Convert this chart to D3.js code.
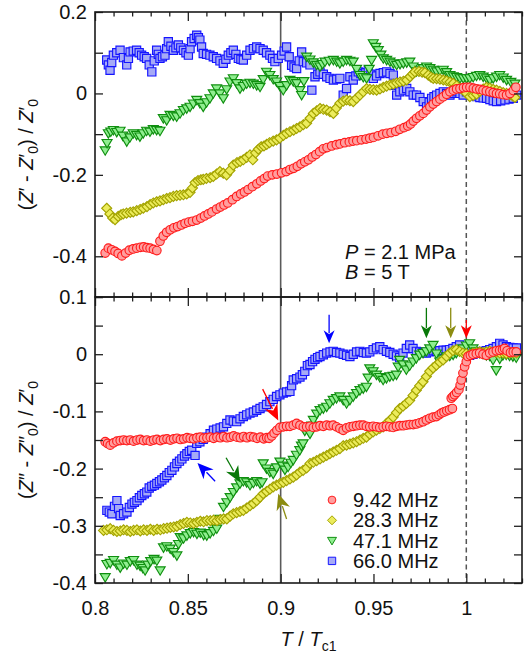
<!DOCTYPE html>
<html><head><meta charset="utf-8">
<script src="https://cdn.jsdelivr.net/npm/d3@7"></script>
<style>html,body{margin:0;padding:0;background:#fff;}svg{display:block;}</style>
</head><body>
<svg id="chart" width="531" height="653"></svg>
<script>
// ---------- DATA ----------
const xMajorTicks = [0.8, 0.85, 0.9, 0.95, 1.0];
const xTickLabels = ["0.8", "0.85", "0.9", "0.95", "1"];
const xMinorTicks = [0.81,0.82,0.83,0.84,0.86,0.87,0.88,0.89,0.91,0.92,0.93,0.94,0.96,0.97,0.98,0.99,1.01,1.02,1.03];
const topYTicks = [0.2, 0.1, 0, -0.1, -0.2, -0.3, -0.4, -0.5];
const topYLabelValues = [0.2, 0, -0.2, -0.4];
const topYLabels = ["0.2", "0", "-0.2", "-0.4"];
const botYTicks = [0.1, 0.05, 0, -0.05, -0.1, -0.15, -0.2, -0.25, -0.3, -0.35, -0.4];
const botYLabelValues = [0.1, 0, -0.1, -0.2, -0.3, -0.4];
const botYLabels = ["0.1", "0", "-0.1", "-0.2", "-0.3", "-0.4"];
const seriesNames = ["9.42 MHz", "28.3 MHz", "47.1 MHz", "66.0 MHz"];

// top panel: (Z' - Z'0)/Z'0 vs T/Tc1
const redTop = [[.8055,-.392],[.8072,-.380],[.8090,-.384],[.8108,-.388],[.8125,-.393],[.8145,-.399],[.8165,-.392],[.8185,-.385],[.8205,-.382],[.8225,-.380],[.8245,-.378],[.8262,-.377],[.8280,-.379],[.8297,-.380],[.8315,-.383],[.8333,-.386],[.8350,-.363],[.8368,-.350],[.8386,-.341],[.8405,-.335],[.8425,-.330],[.8445,-.327],[.8465,-.323],[.8485,-.319],[.8505,-.316],[.8525,-.314],[.8548,-.311],[.8570,-.306],[.8590,-.301],[.8610,-.296],[.8630,-.291],[.8655,-.284],[.8675,-.279],[.8695,-.274],[.8715,-.269],[.8740,-.261],[.8763,-.253],[.8785,-.247],[.8805,-.242],[.8825,-.236],[.8848,-.229],[.8872,-.222],[.8892,-.215],[.8912,-.209],[.8930,-.203],[.8955,-.200],[.8980,-.198],[.9005,-.195],[.9030,-.192],[.9050,-.187],[.9070,-.184],[.9090,-.179],[.9110,-.173],[.9130,-.168],[.9150,-.163],[.9170,-.156],[.9190,-.150],[.9210,-.143],[.9230,-.136],[.9250,-.133],[.9275,-.129],[.9300,-.126],[.9320,-.124],[.9345,-.121],[.9370,-.119],[.9390,-.117],[.9410,-.116],[.9435,-.114],[.9460,-.112],[.9480,-.110],[.9500,-.108],[.9525,-.104],[.9550,-.100],[.9572,-.098],[.9595,-.096],[.9620,-.093],[.9642,-.088],[.9665,-.084],[.9685,-.080],[.9700,-.075],[.9715,-.068],[.9732,-.061],[.9750,-.055],[.9768,-.049],[.9786,-.041],[.9804,-.033],[.9822,-.026],[.9840,-.020],[.9858,-.014],[.9876,-.008],[.9894,-.002],[.9912,.004],[.9930,.008],[.9948,.011],[.9966,.012],[.9985,.014],[1.0002,.015],[1.0020,.015],[1.0038,.013],[1.0055,.011],[1.0073,.010],[1.0090,.008],[1.0108,.006],[1.0127,.004],[1.0145,.002],[1.0163,.000],[1.0180,-.001],[1.0198,-.003],[1.0217,-.004],[1.0235,.000],[1.0253,.007],[1.0267,.015]];
const yellowTop = [[.8063,-.282],[.8080,-.296],[.8095,-.306],[.8108,-.310],[.8125,-.302],[.8140,-.298],[.8152,-.296],[.8170,-.294],[.8190,-.292],[.8206,-.291],[.8225,-.288],[.8243,-.285],[.8260,-.282],[.8280,-.278],[.8297,-.273],[.8314,-.269],[.8332,-.266],[.8350,-.264],[.8368,-.261],[.8386,-.258],[.8404,-.256],[.8422,-.253],[.8440,-.251],[.8458,-.250],[.8476,-.249],[.8494,-.247],[.8512,-.243],[.8525,-.232],[.8539,-.219],[.8555,-.214],[.8570,-.212],[.8583,-.211],[.8600,-.209],[.8620,-.207],[.8637,-.204],[.8655,-.198],[.8673,-.192],[.8691,-.196],[.8709,-.200],[.8727,-.189],[.8745,-.176],[.8765,-.170],[.8782,-.167],[.8799,-.163],[.8817,-.157],[.8835,-.151],[.8850,-.163],[.8865,-.146],[.8880,-.137],[.8895,-.131],[.8910,-.129],[.8925,-.125],[.8940,-.121],[.8960,-.117],[.8978,-.114],[.8995,-.110],[.9015,-.103],[.9032,-.098],[.9050,-.094],[.9070,-.090],[.9086,-.086],[.9104,-.082],[.9122,-.077],[.9140,-.073],[.9158,-.061],[.9176,-.049],[.9194,-.043],[.9212,-.037],[.9230,-.039],[.9248,-.041],[.9266,-.045],[.9284,-.049],[.9300,-.036],[.9319,-.024],[.9337,-.019],[.9355,-.016],[.9373,-.018],[.9391,-.020],[.9409,-.012],[.9427,-.004],[.9445,.004],[.9463,.012],[.9481,.010],[.9499,.009],[.9517,.008],[.9535,.011],[.9553,.015],[.9571,.018],[.9589,.021],[.9607,.023],[.9625,.026],[.9643,.028],[.9661,.030],[.9679,.033],[.9697,.041],[.9711,.048],[.9723,.053],[.9745,.054],[.9762,.052],[.9777,.051],[.9795,.045],[.9810,.040],[.9822,.037],[.9840,.036],[.9858,.035],[.9876,.033],[.9894,.031],[.9912,.028],[.9930,.025],[.9948,.019],[.9966,.013],[.9983,.008],[1.0001,.000],[1.0019,-.008],[1.0037,-.005],[1.0055,-.002],[1.0073,.005],[1.0091,.011],[1.0109,.015],[1.0127,.013],[1.0145,.010],[1.0163,.008],[1.0181,.005],[1.0199,.002],[1.0217,.000],[1.0235,-.003],[1.0250,-.006],[1.0262,-.010]];
const greenTop = [[.8055,-.140],[.8065,-.122],[.8072,-.098],[.8085,-.094],[.8099,-.090],[.8117,-.095],[.8135,-.092],[.8150,-.104],[.8171,-.118],[.8188,-.108],[.8206,-.098],[.8224,-.102],[.8242,-.106],[.8260,-.098],[.8278,-.092],[.8296,-.094],[.8314,-.088],[.8332,-.090],[.8350,-.092],[.8368,-.061],[.8386,-.066],[.8404,-.053],[.8422,-.055],[.8440,-.057],[.8458,-.049],[.8476,-.041],[.8494,-.037],[.8512,-.033],[.8530,-.025],[.8548,-.016],[.8565,-.024],[.8583,-.033],[.8601,-.022],[.8619,-.012],[.8637,.000],[.8655,.012],[.8673,.000],[.8691,-.012],[.8709,.010],[.8727,.029],[.8745,.037],[.8763,.025],[.8781,.012],[.8799,.018],[.8817,.024],[.8835,.026],[.8853,.024],[.8871,.020],[.8889,.016],[.8906,.035],[.8924,.053],[.8942,.045],[.8960,.035],[.8978,.029],[.8996,.018],[.9014,.008],[.9032,.020],[.9050,.033],[.9068,.030],[.9086,.025],[.9104,.008],[.9113,-.004],[.9125,.030],[.9140,.090],[.9158,.083],[.9176,.076],[.9194,.070],[.9212,.066],[.9226,.072],[.9239,.078],[.9262,.080],[.9284,.082],[.9302,.078],[.9319,.074],[.9337,.078],[.9355,.082],[.9373,.080],[.9391,.078],[.9409,.060],[.9427,.045],[.9445,.040],[.9463,.037],[.9477,.060],[.9490,.082],[.9499,.123],[.9512,.114],[.9526,.106],[.9540,.095],[.9553,.086],[.9571,.082],[.9589,.078],[.9607,.074],[.9625,.070],[.9643,.072],[.9661,.074],[.9679,.076],[.9696,.078],[.9714,.066],[.9732,.054],[.9750,.058],[.9768,.062],[.9786,.066],[.9804,.062],[.9822,.058],[.9840,.054],[.9858,.056],[.9876,.058],[.9894,.052],[.9912,.045],[.9930,.042],[.9948,.040],[.9966,.037],[.9984,.037],[1.0002,.037],[1.0019,.037],[1.0037,.040],[1.0055,.043],[1.0073,.045],[1.0091,.041],[1.0109,.037],[1.0127,.033],[1.0145,.037],[1.0163,.041],[1.0180,.045],[1.0199,.039],[1.0217,.033],[1.0240,.028],[1.0262,.024]];
const blueTop = [[.8063,.082],[.8072,.070],[.8081,.057],[.8090,.076],[.8099,.094],[.8117,.100],[.8135,.106],[.8153,.088],[.8171,.070],[.8180,.086],[.8189,.102],[.8206,.104],[.8224,.106],[.8238,.100],[.8251,.094],[.8265,.090],[.8278,.086],[.8292,.070],[.8306,.053],[.8319,.080],[.8332,.106],[.8341,.096],[.8350,.086],[.8363,.090],[.8377,.094],[.8386,.110],[.8395,.127],[.8409,.116],[.8422,.106],[.8436,.112],[.8449,.119],[.8462,.112],[.8476,.106],[.8490,.100],[.8503,.094],[.8512,.110],[.8520,.127],[.8534,.135],[.8548,.143],[.8557,.137],[.8565,.131],[.8574,.114],[.8583,.098],[.8601,.096],[.8619,.094],[.8637,.090],[.8655,.086],[.8673,.080],[.8691,.074],[.8705,.084],[.8718,.094],[.8732,.100],[.8745,.106],[.8759,.096],[.8772,.086],[.8786,.084],[.8799,.082],[.8817,.094],[.8835,.106],[.8853,.110],[.8871,.114],[.8889,.110],[.8906,.106],[.8924,.100],[.8942,.094],[.8956,.086],[.8969,.078],[.8987,.086],[.9005,.094],[.9019,.104],[.9032,.114],[.9046,.090],[.9059,.069],[.9072,.065],[.9086,.061],[.9100,.080],[.9113,.102],[.9122,.078],[.9140,.075],[.9158,.070],[.9168,.008],[.9185,.041],[.9200,.047],[.9212,.053],[.9230,.047],[.9248,.041],[.9266,.037],[.9284,.033],[.9302,.035],[.9319,.037],[.9337,-.004],[.9355,.012],[.9373,.041],[.9391,.033],[.9405,.043],[.9418,.053],[.9432,.049],[.9445,.045],[.9459,.051],[.9472,.057],[.9486,.047],[.9499,.037],[.9517,.043],[.9535,.049],[.9553,.051],[.9571,.053],[.9589,.049],[.9607,.045],[.9616,.020],[.9625,-.004],[.9642,.004],[.9661,.008],[.9679,.012],[.9696,.004],[.9714,-.004],[.9732,-.004],[.9750,-.010],[.9768,-.020],[.9786,-.033],[.9800,-.022],[.9813,-.012],[.9826,-.008],[.9840,-.004],[.9858,.000],[.9876,.004],[.9894,.000],[.9912,-.004],[.9930,.000],[.9948,.004],[.9966,.000],[.9983,-.004],[1.0001,.004],[1.0019,.012],[1.0037,.002],[1.0055,-.008],[1.0073,-.010],[1.0091,-.011],[1.0109,-.012],[1.0127,-.015],[1.0145,-.018],[1.0163,-.020],[1.0185,-.018],[1.0208,-.016],[1.0230,-.014],[1.0253,-.012],[1.0271,-.004]];

// bottom panel: (Z'' - Z''0)/Z'0 vs T/Tc1
const redBot = [[.8055,-.153],[.8068,-.156],[.8082,-.159],[.8100,-.155],[.8118,-.152],[.8136,-.151],[.8154,-.150],[.8172,-.151],[.8190,-.150],[.8208,-.152],[.8226,-.150],[.8244,-.149],[.8262,-.151],[.8280,-.150],[.8298,-.152],[.8316,-.150],[.8334,-.149],[.8352,-.151],[.8370,-.149],[.8388,-.148],[.8406,-.150],[.8424,-.148],[.8442,-.147],[.8460,-.149],[.8478,-.148],[.8496,-.146],[.8513,-.147],[.8531,-.148],[.8549,-.146],[.8567,-.145],[.8585,-.147],[.8603,-.146],[.8621,-.145],[.8639,-.147],[.8657,-.145],[.8675,-.146],[.8693,-.144],[.8711,-.146],[.8729,-.145],[.8747,-.143],[.8765,-.145],[.8783,-.146],[.8801,-.144],[.8819,-.146],[.8837,-.144],[.8855,-.145],[.8873,-.147],[.8891,-.145],[.8909,-.148],[.8925,-.146],[.8938,-.147],[.8952,-.143],[.8965,-.138],[.8980,-.133],[.8996,-.128],[.9014,-.127],[.9032,-.126],[.9050,-.126],[.9068,-.124],[.9086,-.121],[.9104,-.124],[.9122,-.127],[.9140,-.127],[.9158,-.126],[.9176,-.128],[.9194,-.127],[.9212,-.125],[.9230,-.126],[.9248,-.124],[.9266,-.125],[.9283,-.124],[.9301,-.127],[.9319,-.130],[.9337,-.133],[.9355,-.129],[.9373,-.127],[.9391,-.126],[.9409,-.125],[.9427,-.124],[.9445,-.124],[.9462,-.126],[.9480,-.127],[.9498,-.126],[.9516,-.127],[.9534,-.128],[.9552,-.127],[.9570,-.126],[.9588,-.127],[.9606,-.128],[.9624,-.126],[.9642,-.125],[.9660,-.125],[.9678,-.124],[.9696,-.123],[.9714,-.123],[.9731,-.122],[.9749,-.120],[.9767,-.118],[.9785,-.115],[.9803,-.112],[.9821,-.110],[.9839,-.109],[.9853,-.106],[.9866,-.103],[.9880,-.101],[.9895,-.099],[.9910,-.097],[.9925,-.095],[.9919,-.077],[.9928,-.074],[.9937,-.071],[.9948,-.067],[.9960,-.062],[.9967,-.054],[.9973,-.045],[.9982,-.033],[.9991,-.022],[1.0000,-.013],[1.0009,-.004],[1.0022,-.002],[1.0036,.000],[1.0054,.001],[1.0072,.002],[1.0090,.000],[1.0108,-.002],[1.0126,.002],[1.0144,.004],[1.0162,.006],[1.0180,.007],[1.0195,.008],[1.0206,.010],[1.0220,.006],[1.0238,.003],[1.0253,.004],[1.0269,.004]];
const yellowBot = [[.8046,-.308],[.8064,-.307],[.8082,-.305],[.8100,-.308],[.8118,-.310],[.8136,-.309],[.8154,-.307],[.8172,-.308],[.8190,-.310],[.8208,-.308],[.8226,-.307],[.8244,-.309],[.8262,-.307],[.8280,-.308],[.8298,-.306],[.8316,-.308],[.8334,-.306],[.8352,-.307],[.8370,-.305],[.8388,-.304],[.8406,-.303],[.8424,-.302],[.8441,-.301],[.8459,-.298],[.8477,-.296],[.8495,-.294],[.8513,-.295],[.8531,-.296],[.8549,-.294],[.8567,-.292],[.8585,-.293],[.8603,-.291],[.8621,-.291],[.8639,-.290],[.8657,-.291],[.8675,-.289],[.8693,-.288],[.8710,-.288],[.8728,-.283],[.8745,-.279],[.8763,-.277],[.8781,-.275],[.8799,-.273],[.8817,-.269],[.8835,-.265],[.8853,-.261],[.8871,-.256],[.8889,-.250],[.8906,-.244],[.8924,-.240],[.8942,-.236],[.8960,-.232],[.8978,-.229],[.8996,-.226],[.9014,-.224],[.9032,-.221],[.9050,-.218],[.9068,-.215],[.9086,-.211],[.9104,-.206],[.9121,-.203],[.9140,-.199],[.9158,-.191],[.9176,-.189],[.9194,-.186],[.9212,-.183],[.9230,-.180],[.9248,-.177],[.9265,-.174],[.9283,-.171],[.9301,-.168],[.9319,-.165],[.9337,-.160],[.9355,-.159],[.9373,-.157],[.9391,-.155],[.9409,-.153],[.9427,-.150],[.9445,-.147],[.9462,-.145],[.9480,-.140],[.9498,-.136],[.9516,-.133],[.9534,-.130],[.9552,-.127],[.9570,-.121],[.9588,-.116],[.9606,-.110],[.9624,-.102],[.9641,-.095],[.9659,-.091],[.9677,-.086],[.9695,-.081],[.9713,-.072],[.9731,-.063],[.9749,-.055],[.9767,-.048],[.9785,-.039],[.9803,-.030],[.9821,-.024],[.9839,-.019],[.9857,-.014],[.9875,-.010],[.9893,-.004],[.9910,.002],[.9928,.006],[.9946,.008],[.9964,.005],[.9982,.002],[1.0000,.001],[1.0018,.000],[1.0036,.002],[1.0054,.003],[1.0072,.004],[1.0090,.003],[1.0108,.004],[1.0126,.005],[1.0144,.004],[1.0162,.003],[1.0180,.002],[1.0198,.002],[1.0216,.001],[1.0234,.002],[1.0252,.002],[1.0270,.002]];
const greenBot = [[.8055,-.390],[.8064,-.367],[.8082,-.365],[.8100,-.360],[.8118,-.368],[.8136,-.373],[.8154,-.366],[.8172,-.368],[.8190,-.362],[.8208,-.360],[.8226,-.368],[.8243,-.370],[.8258,-.374],[.8270,-.378],[.8285,-.368],[.8300,-.362],[.8318,-.358],[.8333,-.361],[.8351,-.378],[.8369,-.338],[.8387,-.336],[.8405,-.340],[.8423,-.346],[.8441,-.352],[.8450,-.332],[.8459,-.320],[.8477,-.322],[.8495,-.317],[.8513,-.313],[.8531,-.311],[.8549,-.314],[.8567,-.312],[.8585,-.316],[.8602,-.317],[.8620,-.313],[.8638,-.309],[.8656,-.305],[.8674,-.288],[.8692,-.267],[.8710,-.259],[.8728,-.250],[.8745,-.241],[.8763,-.233],[.8781,-.226],[.8799,-.222],[.8817,-.224],[.8835,-.229],[.8853,-.225],[.8871,-.222],[.8889,-.226],[.8900,-.224],[.8906,-.191],[.8924,-.200],[.8942,-.206],[.8960,-.209],[.8978,-.198],[.8996,-.188],[.9010,-.195],[.9023,-.202],[.9040,-.197],[.9055,-.190],[.9068,-.185],[.9085,-.176],[.9103,-.168],[.9112,-.160],[.9121,-.156],[.9130,-.134],[.9140,-.128],[.9158,-.139],[.9168,-.125],[.9176,-.115],[.9194,-.104],[.9212,-.098],[.9230,-.095],[.9248,-.092],[.9265,-.086],[.9283,-.080],[.9301,-.077],[.9319,-.074],[.9337,-.080],[.9355,-.086],[.9373,-.080],[.9391,-.074],[.9409,-.068],[.9427,-.063],[.9445,-.060],[.9462,-.057],[.9471,-.041],[.9480,-.025],[.9498,-.030],[.9516,-.036],[.9534,-.040],[.9552,-.045],[.9570,-.042],[.9588,-.039],[.9606,-.038],[.9624,-.036],[.9633,-.022],[.9641,-.010],[.9659,-.018],[.9677,-.027],[.9695,-.020],[.9713,-.013],[.9731,-.007],[.9749,-.001],[.9767,.002],[.9785,.005],[.9803,.010],[.9821,.016],[.9839,.001],[.9857,-.013],[.9875,-.008],[.9893,-.004],[.9911,-.003],[.9929,-.001],[.9946,.002],[.9964,.005],[.9982,.010],[1.0000,.015],[1.0018,.019],[1.0036,.010],[1.0054,.005],[1.0072,.002],[1.0090,.000],[1.0108,-.002],[1.0126,-.003],[1.0144,-.010],[1.0161,-.028],[1.0180,-.008],[1.0197,-.002],[1.0215,-.001],[1.0233,-.003],[1.0251,-.004],[1.0269,-.006]];
const blueBot = [[.8064,-.273],[.8077,-.276],[.8091,-.279],[.8105,-.266],[.8118,-.256],[.8127,-.270],[.8136,-.282],[.8154,-.279],[.8172,-.276],[.8185,-.268],[.8199,-.262],[.8212,-.259],[.8226,-.256],[.8239,-.251],[.8252,-.247],[.8266,-.244],[.8279,-.241],[.8292,-.234],[.8306,-.231],[.8320,-.229],[.8333,-.226],[.8347,-.223],[.8360,-.220],[.8374,-.216],[.8387,-.212],[.8400,-.207],[.8414,-.203],[.8428,-.197],[.8441,-.191],[.8455,-.187],[.8468,-.183],[.8482,-.178],[.8495,-.174],[.8508,-.170],[.8521,-.168],[.8539,-.177],[.8548,-.156],[.8565,-.153],[.8583,-.149],[.8602,-.145],[.8620,-.139],[.8638,-.133],[.8656,-.131],[.8674,-.129],[.8692,-.127],[.8710,-.121],[.8727,-.115],[.8745,-.117],[.8763,-.118],[.8781,-.113],[.8799,-.109],[.8817,-.106],[.8835,-.103],[.8853,-.101],[.8871,-.098],[.8889,-.095],[.8906,-.092],[.8924,-.088],[.8942,-.083],[.8960,-.079],[.8978,-.074],[.8996,-.071],[.9014,-.068],[.9032,-.066],[.9050,-.065],[.9059,-.055],[.9068,-.045],[.9086,-.043],[.9104,-.040],[.9117,-.036],[.9130,-.030],[.9144,-.020],[.9158,-.018],[.9172,-.013],[.9185,-.009],[.9199,-.006],[.9212,-.004],[.9230,-.001],[.9248,.002],[.9266,.004],[.9283,.005],[.9301,.003],[.9319,.002],[.9337,.000],[.9355,-.002],[.9373,-.004],[.9391,.000],[.9409,.004],[.9427,.005],[.9445,.003],[.9462,.002],[.9480,.004],[.9498,.008],[.9516,.011],[.9534,.013],[.9552,.008],[.9570,.005],[.9588,.003],[.9606,.000],[.9624,-.003],[.9641,-.006],[.9659,.002],[.9677,.010],[.9695,.016],[.9713,.010],[.9731,.005],[.9749,.004],[.9767,.003],[.9785,.002],[.9803,.004],[.9821,.006],[.9839,.005],[.9857,.006],[.9875,.007],[.9892,.007],[.9910,.008],[.9928,.010],[.9946,.013],[.9964,.016],[.9982,.008],[1.0000,.002],[1.0018,-.002],[1.0036,.000],[1.0054,.002],[1.0072,.004],[1.0090,.005],[1.0108,.006],[1.0126,.008],[1.0144,.010],[1.0162,.013],[1.0180,.019],[1.0198,.016],[1.0216,.013],[1.0234,.012],[1.0252,.011],[1.0270,.011]];

// annotation arrows in bottom panel: [T from, value from], [T to, value to], series index
const arrowStarts = [[.9261,.069],[.9785,.081],[.9916,.081],[1.0,.060],[.8903,-.061],[.8647,-.222],[.8706,-.181],[.9032,-.288]];
const arrowEnds   = [[.9261,.019],[.9785,.028],[.9916,.028],[1.0,.028],[.8987,-.116],[.8552,-.190],[.8781,-.224],[.8987,-.244]];
const arrowSeries = [3, 2, 1, 0, 0, 3, 2, 1];

// ---------- STYLE ----------
const FONT = "'Liberation Sans', Arial, Helvetica, sans-serif";
const markerFill   = ["#ff9e9e", "#ecec5c", "#90ee90", "#a6aaf6"];
const markerStroke = ["#ff1c1c", "#a3a300", "#0f8f0f", "#1414ff"];
const arrowColor   = ["#ff0000", "#8c8c10", "#087808", "#0000ff"];
const shapes = ["circle", "diamond", "triangle", "square"];

const svg = d3.select("#chart").style("font-family", FONT);
const L = 95, R = 522, T0 = 12, MID = 297, B0 = 583;
const x = d3.scaleLinear().domain([0.8, 1.03]).range([L, R]);
const yTop = d3.scaleLinear().domain([-0.5, 0.2]).range([MID, T0]);
const yBot = d3.scaleLinear().domain([-0.4, 0.1]).range([B0, MID]);

function shapePath(s) {
  if (s === "circle") return d3.symbol(d3.symbolCircle, Math.PI * 4.3 * 4.3)();
  if (s === "square") return "M-4.1,-4.1H4.1V4.1H-4.1Z";
  if (s === "diamond") return "M0,-5L5,0L0,5L-5,0Z";
  return "M-5,-3.6L5,-3.6L0,4.8Z";
}

const topSeries = [redTop, yellowTop, greenTop, blueTop];
const botSeries = [redBot, yellowBot, greenBot, blueBot];
const drawOrder = [3, 2, 1, 0];

// vertical reference lines
const gRef = svg.append("g");
gRef.append("line").attr("x1", x(0.9)).attr("x2", x(0.9)).attr("y1", T0).attr("y2", B0)
  .attr("stroke", "#5a5a5a").attr("stroke-width", 1.6);
gRef.append("line").attr("x1", x(1.0)).attr("x2", x(1.0)).attr("y1", T0).attr("y2", B0)
  .attr("stroke", "#555").attr("stroke-width", 1.5).attr("stroke-dasharray", "5,3.5");

function drawPanel(series, y) {
  const g = svg.append("g");
  drawOrder.forEach(i => {
    g.append("g").selectAll("path").data(series[i]).join("path")
      .attr("d", shapePath(shapes[i]))
      .attr("transform", d => `translate(${x(d[0])},${y(d[1])})`)
      .attr("fill", markerFill[i]).attr("stroke", markerStroke[i]).attr("stroke-width", 1.15);
  });
}
drawPanel(topSeries, yTop);
drawPanel(botSeries, yBot);

// axes
function styleAxis(g) {
  g.select(".domain").remove();
  g.selectAll(".tick line").attr("stroke", "#222").attr("stroke-width", 1.3);
  g.selectAll("text").attr("font-size", 20).attr("fill", "#111").style("font-family", FONT);
}
function xAxes(y0, y1, withLabels) {
  svg.append("g").attr("transform", `translate(0,${y1})`)
    .call(d3.axisBottom(x).tickValues(xMajorTicks).tickSize(-9).tickPadding(18)
      .tickFormat((d, i) => withLabels ? xTickLabels[i] : ""))
    .call(styleAxis);
  svg.append("g").attr("transform", `translate(0,${y1})`)
    .call(d3.axisBottom(x).tickValues(xMinorTicks).tickSize(-4.5).tickFormat(""))
    .call(styleAxis);
  svg.append("g").attr("transform", `translate(0,${y0})`)
    .call(d3.axisTop(x).tickValues(xMajorTicks).tickSize(-9).tickFormat(""))
    .call(styleAxis);
  svg.append("g").attr("transform", `translate(0,${y0})`)
    .call(d3.axisTop(x).tickValues(xMinorTicks).tickSize(-4.5).tickFormat(""))
    .call(styleAxis);
}
xAxes(T0, MID, false);
xAxes(MID, B0, true);

function yAxes(y, ticks, labelVals, labels) {
  svg.append("g").attr("transform", `translate(${L},0)`)
    .call(d3.axisLeft(y).tickValues(ticks).tickSize(-8).tickPadding(8)
      .tickFormat(d => { const k = labelVals.findIndex(v => Math.abs(v - d) < 1e-9); return k >= 0 ? labels[k] : ""; }))
    .call(styleAxis);
  svg.append("g").attr("transform", `translate(${R},0)`)
    .call(d3.axisRight(y).tickValues(ticks).tickSize(-8).tickFormat(""))
    .call(styleAxis);
}
yAxes(yTop, topYTicks, topYLabelValues, topYLabels);
yAxes(yBot, botYTicks, botYLabelValues, botYLabels);

// frames
[[T0, MID], [MID, B0]].forEach(([a, b]) => {
  svg.append("rect").attr("x", L).attr("y", a).attr("width", R - L).attr("height", b - a)
    .attr("fill", "none").attr("stroke", "#1a1a1a").attr("stroke-width", 1.6);
});

// arrows
const gA = svg.append("g");
arrowStarts.forEach((s, k) => {
  const x1 = x(s[0]), y1 = yBot(s[1]), x2 = x(arrowEnds[k][0]), y2 = yBot(arrowEnds[k][1]);
  const c = arrowColor[arrowSeries[k]];
  const ang = Math.atan2(y2 - y1, x2 - x1);
  const diag = Math.abs(Math.cos(ang)) > 0.1;
  const hl = diag ? 16 : 13, hw = diag ? 7 : 5.5;
  const bx = x2 - hl * Math.cos(ang), by = y2 - hl * Math.sin(ang);
  gA.append("line").attr("x1", x1).attr("y1", y1).attr("x2", bx + 3 * Math.cos(ang)).attr("y2", by + 3 * Math.sin(ang))
    .attr("stroke", c).attr("stroke-width", 1.3);
  const px = -Math.sin(ang) * hw, py = Math.cos(ang) * hw;
  gA.append("path").attr("d", `M${x2},${y2}L${bx + px},${by + py}L${bx + 0.3 * hl * Math.cos(ang)},${by + 0.3 * hl * Math.sin(ang)}L${bx - px},${by - py}Z`)
    .attr("fill", c);
});

// legend
const lg = svg.append("g");
seriesNames.forEach((name, i) => {
  const cy = 500 + i * 20.3;
  lg.append("path").attr("d", shapePath(shapes[i])).attr("transform", `translate(332,${cy}) scale(0.9)`)
    .attr("fill", markerFill[i]).attr("stroke", markerStroke[i]).attr("stroke-width", 1.1);
  lg.append("text").attr("x", 353).attr("y", cy + 7).attr("font-size", 20).attr("fill", "#111").text(name);
});

// P, B annotation
const ann = svg.append("g").attr("font-size", 20).attr("fill", "#111");
let t1 = ann.append("text").attr("x", 345).attr("y", 259);
t1.append("tspan").attr("font-style", "italic").text("P");
t1.append("tspan").text(" = 2.1 MPa");
let t2 = ann.append("text").attr("x", 345).attr("y", 279);
t2.append("tspan").attr("font-style", "italic").text("B");
t2.append("tspan").text(" = 5 T");

// axis titles
function yTitle(cy, prime) {
  const t = svg.append("text").attr("transform", `translate(33,${cy}) rotate(-90)`)
    .attr("text-anchor", "middle").attr("font-size", 20).attr("fill", "#111");
  t.append("tspan").text("(");
  t.append("tspan").attr("font-style", "italic").text("Z");
  t.append("tspan").text(prime + " - ");
  t.append("tspan").attr("font-style", "italic").text("Z");
  t.append("tspan").text(prime);
  t.append("tspan").attr("font-size", 14).attr("dy", 5).text("0");
  t.append("tspan").attr("dy", -5).text(") / ");
  t.append("tspan").attr("font-style", "italic").text("Z");
  t.append("tspan").text("\u2032");
  t.append("tspan").attr("font-size", 14).attr("dy", 5).text("0");
}
yTitle((T0 + MID) / 2, "\u2032");
yTitle((MID + B0) / 2, "\u2033");

const xt = svg.append("text").attr("x", (L + R) / 2).attr("y", 646).attr("text-anchor", "middle")
  .attr("font-size", 20).attr("fill", "#111");
xt.append("tspan").attr("font-style", "italic").text("T");
xt.append("tspan").text(" / ");
xt.append("tspan").attr("font-style", "italic").text("T");
xt.append("tspan").attr("font-size", 14).attr("dy", 5).text("c1");
</script>
</body></html>
